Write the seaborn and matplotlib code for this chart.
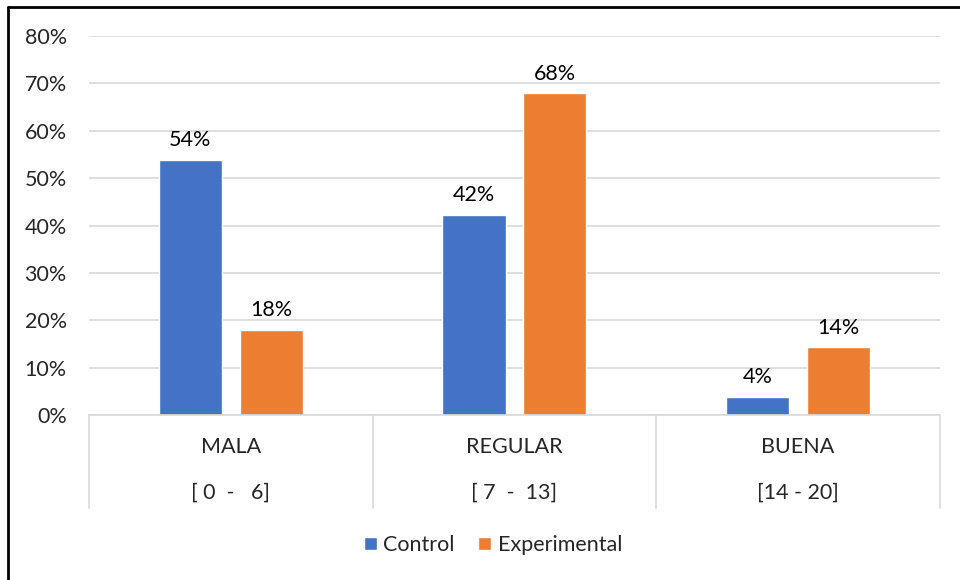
import pandas as pd
import numpy as np
import seaborn as sns
import matplotlib.pyplot as plt
from matplotlib.lines import Line2D
from matplotlib.patches import Patch

niveles = ['MALA', 'REGULAR', 'BUENA']
rangos = ['[ 0  -   6]', '[ 7  -  13]', '[14 - 20]']
grupos = ['Control', 'Experimental']
control = [0.538, 0.423, 0.038]
experimental = [0.179, 0.679, 0.143]
etiquetas_control = ['54%', '42%', '4%']
etiquetas_experimental = ['18%', '68%', '14%']
yticks = [0, 0.1, 0.2, 0.3, 0.4, 0.5, 0.6, 0.7, 0.8]

colores = ['#4472C4', '#ED7D31']

df = pd.DataFrame({
    'nivel': niveles * 2,
    'grupo': [grupos[0]] * 3 + [grupos[1]] * 3,
    'valor': control + experimental,
})

sns.set_style('white')
plt.rcParams['font.family'] = ['Lato', 'DejaVu Sans']
fs = 15.5

fig = plt.figure(figsize=(9.6, 5.8), dpi=100)
ax = fig.add_axes([0.0927, 0.2845, 0.8863, 0.6534])

sns.barplot(data=df, x='nivel', y='valor', hue='grupo', order=niveles, hue_order=grupos,
            palette=colores, width=0.57, gap=0.22, saturation=1, ax=ax, legend=False)

for cont, labs in zip(ax.containers, [etiquetas_control, etiquetas_experimental]):
    ax.bar_label(cont, labels=labs, padding=7, fontsize=fs, color='#000000')

ax.set_xlim(-0.5, 2.5)
ax.set_ylim(0, 0.8)
ax.set_yticks(yticks)
ax.set_yticklabels([f'{int(round(v * 100))}%' for v in yticks], fontsize=fs)
ax.tick_params(axis='y', length=0, pad=16)
ax.yaxis.grid(True, color='#D9D9D9', linewidth=1.2)
ax.set_axisbelow(True)
ax.set_xlabel('')
ax.set_ylabel('')
ax.set_xticks([])
for s in ['top', 'right', 'left']:
    ax.spines[s].set_visible(False)
ax.spines['bottom'].set_color('#D9D9D9')
ax.spines['bottom'].set_linewidth(1.2)

tr = ax.get_xaxis_transform()
for i, (n, r) in enumerate(zip(niveles, rangos)):
    ax.text(i, -0.084, n, transform=tr, ha='center', va='center', fontsize=fs)
    ax.text(i, -0.206, r, transform=tr, ha='center', va='center', fontsize=fs)
for xs in [-0.5, 0.5, 1.5, 2.5]:
    ax.add_line(Line2D([xs, xs], [0, -0.245], transform=tr, color='#D9D9D9',
                       linewidth=1.2, clip_on=False))

handles = [Patch(facecolor=c, label=g) for c, g in zip(colores, grupos)]
fig.legend(handles=handles, loc='center', bbox_to_anchor=(493 / 960, 1 - 545 / 580), ncol=2,
           frameon=False, fontsize=fs, handlelength=0.6, handleheight=0.6, handletextpad=0.3,
           columnspacing=1.1)

# borde del grafico (solo arriba e izquierda visibles)
fig.add_artist(Line2D([8 / 960, 8 / 960], [0, 1 - 7 / 580], transform=fig.transFigure,
                      color='black', linewidth=2))
fig.add_artist(Line2D([8 / 960, 1], [1 - 7 / 580, 1 - 7 / 580], transform=fig.transFigure,
                      color='black', linewidth=2))

fig.savefig('out.png', dpi=100)
plt.close()
